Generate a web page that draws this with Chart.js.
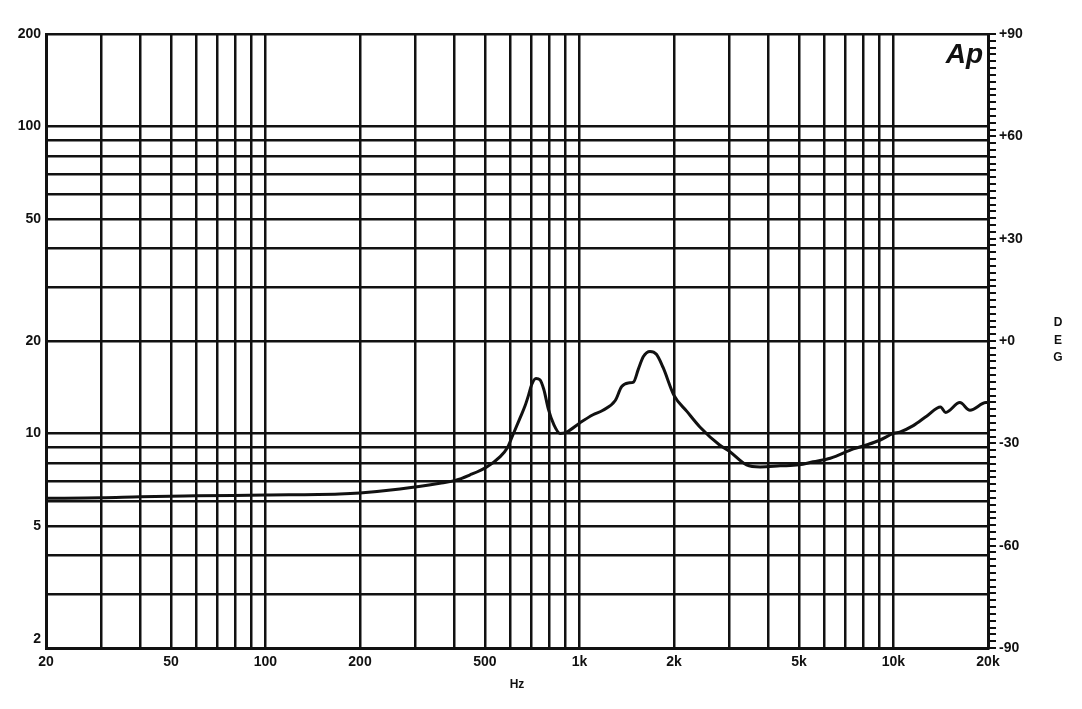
<!DOCTYPE html>
<html>
<head>
<meta charset="utf-8">
<title>Impedance</title>
<script src="https://cdn.jsdelivr.net/npm/chart.js@4/dist/chart.umd.min.js"></script>
<style>
    html, body { margin: 0; padding: 0; background: #fff; }
    #chart { display: block; }
</style>
</head>
<body>
<canvas id="chart" width="1082" height="709"></canvas>
<script>
// impedance curve
const freqHz = [20, 30, 40, 60, 100, 172, 200, 268, 359, 400, 447, 508, 558, 590, 614, 646, 671, 688, 704, 727, 748, 770, 796, 828, 867, 910,
    1000, 1104, 1188, 1300, 1362, 1430, 1486, 1540, 1598, 1677, 1758, 1846, 2000, 2198, 2418, 2794, 3000, 3404, 3765, 4356, 5000, 5543,
    6292, 7454, 8200, 9040, 10000, 10470, 11560, 12780, 14120, 14660, 16270, 17520, 19700, 20000];
const ohms = [6.15, 6.17, 6.22, 6.26, 6.3, 6.35, 6.4, 6.59, 6.88, 7.02, 7.32, 7.79, 8.39, 9.0, 9.9, 11.2, 12.3, 13.3, 14.4, 15.1, 14.95, 13.9, 12.0, 10.7, 10.0, 10.1,
    10.8, 11.5, 11.9, 12.8, 14.2, 14.6, 14.7, 16.2, 17.8, 18.5, 18.1, 16.4, 13.3, 11.8, 10.5, 9.17, 8.75, 7.9, 7.78, 7.84, 7.9, 8.08,
    8.3, 8.9, 9.17, 9.5, 10.0, 10.1, 10.6, 11.4, 12.2, 11.7, 12.6, 11.9, 12.6, 12.6];

// grid and tick labels
const xGrid = [20, 30, 40, 50, 60, 70, 80, 90, 100, 200, 300, 400, 500, 600, 700, 800, 900, 1000, 2000, 3000, 4000, 5000, 6000, 7000, 8000, 9000, 10000, 20000];
const xLabels = { 20: "20", 50: "50", 100: "100", 200: "200", 500: "500", 1000: "1k", 2000: "2k", 5000: "5k", 10000: "10k", 20000: "20k" };
const yGrid = [2, 3, 4, 5, 6, 7, 8, 9, 10, 20, 30, 40, 50, 60, 70, 80, 90, 100, 200];
const yLabels = { 2: "2", 5: "5", 10: "10", 20: "20", 50: "50", 100: "100", 200: "200" };
const degLabels = { 90: "+90", 60: "+60", 30: "+30", 0: "+0", "-30": "-30", "-60": "-60", "-90": "-90" };

const ink = "#111";
const tickFont = { family: "Liberation Sans", size: 14, weight: "bold" };

const degTicks = [];
for (let d = -90; d <= 90; d += 2) degTicks.push(d);

// Ap logo and the stacked DEG title
const extras = {
    id: "extras",
    afterDraw(chart) {
        const ctx = chart.ctx;
        ctx.save();
        ctx.fillStyle = ink;
        ctx.font = "italic bold 28px 'Liberation Sans'";
        ctx.textAlign = "right";
        ctx.textBaseline = "alphabetic";
        ctx.fillText("Ap", 983, 63);
        ctx.font = "bold 12px 'Liberation Sans'";
        ctx.textAlign = "center";
        ctx.textBaseline = "middle";
        ["D", "E", "G"].forEach((c, i) => ctx.fillText(c, 1058, 323 + i * 17.5));
        ctx.restore();
    }
};

new Chart(document.getElementById("chart"), {
    type: "line",
    data: {
        datasets: [{
            data: freqHz.map((f, i) => ({ x: f, y: ohms[i] })),
            borderColor: ink,
            borderWidth: 3,
            pointRadius: 0,
            cubicInterpolationMode: "monotone",
            fill: false
        }]
    },
    options: {
        responsive: false,
        animation: false,
        layout: { padding: { top: 34, left: 0, right: 0, bottom: 0 } },
        plugins: { legend: { display: false }, tooltip: { enabled: false } },
        scales: {
            x: {
                type: "logarithmic",
                min: 20,
                max: 20000,
                afterBuildTicks: (s) => { s.ticks = xGrid.map(v => ({ value: v })); },
                afterFit: (s) => { s.height = 61; },
                grid: { color: ink, lineWidth: 2.5, drawTicks: false },
                border: { color: ink, width: 3 },
                ticks: {
                    autoSkip: false,
                    maxRotation: 0,
                    padding: 6,
                    color: ink,
                    font: tickFont,
                    callback: (v) => xLabels[v] || ""
                },
                title: {
                    display: true,
                    text: "Hz",
                    color: ink,
                    font: { family: "Liberation Sans", size: 12, weight: "bold" },
                    padding: { top: 0, bottom: 17 }
                }
            },
            y: {
                type: "logarithmic",
                position: "left",
                min: 2,
                max: 200,
                afterBuildTicks: (s) => { s.ticks = yGrid.map(v => ({ value: v })); },
                afterFit: (s) => { s.width = 46; },
                grid: { color: ink, lineWidth: 2.5, drawTicks: false },
                border: { color: ink, width: 3 },
                ticks: {
                    autoSkip: false,
                    padding: 5,
                    color: ink,
                    font: tickFont,
                    callback: (v) => v === 2 ? ["2", ""] : (yLabels[v] || "")
                }
            },
            y1: {
                type: "linear",
                position: "right",
                min: -90,
                max: 90,
                afterBuildTicks: (s) => { s.ticks = degTicks.map(v => ({ value: v })); },
                afterFit: (s) => { s.width = 94; },
                grid: { drawOnChartArea: false, color: ink, lineWidth: 2, tickLength: 8 },
                border: { color: ink, width: 3 },
                ticks: {
                    autoSkip: false,
                    padding: 3,
                    color: ink,
                    font: tickFont,
                    callback: (v) => degLabels[v] || ""
                }
            }
        }
    },
    plugins: [extras]
});
</script>
</body>
</html>
